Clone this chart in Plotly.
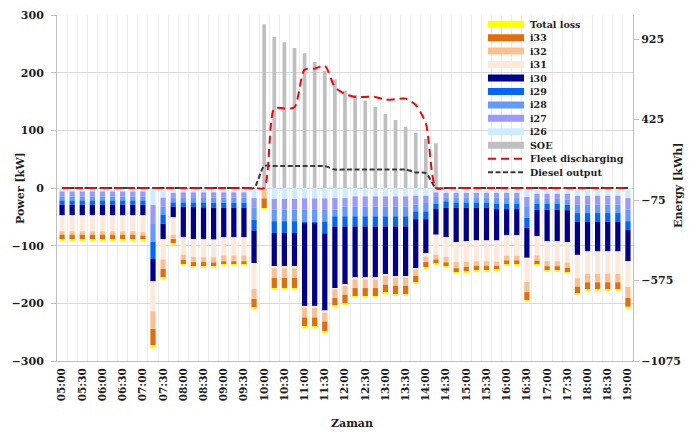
import plotly.graph_objects as go

# 15-minute time steps of the day
times = ["05:00", "05:15", "05:30", "05:45", "06:00", "06:15", "06:30", "06:45",
         "07:00", "07:15", "07:30", "07:45", "08:00", "08:15", "08:30", "08:45",
         "09:00", "09:15", "09:30", "09:45", "10:00", "10:15", "10:30", "10:45",
         "11:00", "11:15", "11:30", "11:45", "12:00", "12:15", "12:30", "12:45",
         "13:00", "13:15", "13:30", "13:45", "14:00", "14:15", "14:30", "14:45",
         "15:00", "15:15", "15:30", "15:45", "16:00", "16:15", "16:30", "16:45",
         "17:00", "17:15", "17:30", "17:45", "18:00", "18:15", "18:30", "18:45",
         "19:00"]

# Charging power per vehicle group [kW] (negative = drawn from the grid)
i26 = [-6, -6, -6, -6, -6, -6, -6, -6, -6, -29.5, -17, -8.5, -7.5, -7.5, -7.5, -7.5,
       -7.5, -7.5, -7.5, -17.5, 0, -19, -19, -19, -18, -18, -18, -17.5, -17.5, -14.5,
       -14.5, -14.5, -14.5, -14.5, -14.5, -13.5, -13.5, -7.5, -8.5, -8.5, -8.5, -8.5,
       -8.5, -8.5, -8.5, -8.5, -15.5, -10, -10, -10, -10, -13.5, -13.5, -13.5, -13.5,
       -13.5, -17.5]
i27 = [-8.5, -8.5, -8.5, -8.5, -8.5, -8.5, -8.5, -8.5, -8.5, -31.5, -15, -8.5, -8.5,
       -8.5, -8.5, -9, -9, -9, -9, -17, 0, -18.5, -18.5, -18.5, -20, -20, -20, -20,
       -14.5, -17.5, -17.5, -17.5, -17.5, -17.5, -17.5, -15.5, -12.5, -8, -8.5, -8.5,
       -8.5, -8.5, -8.5, -8.5, -8.5, -8.5, -16, -9, -9, -9, -10, -15.5, -15.5, -15.5,
       -15.5, -15.5, -20]
i28 = [-7, -7, -7, -7, -7, -7, -7, -7, -7, -32, -14, -8, -9, -9, -9, -9, -9, -9, -9,
       -20.5, 0, -20, -20, -20, -21, -21, -20, -11.5, -17, -17, -17, -17, -17, -17, -17,
       -11.5, -14.5, -11.5, -6, -8, -8, -8, -8, -10, -10, -10, -20, -8, -8, -8, -9,
       -14.5, -14.5, -14.5, -14.5, -14.5, -20]
i29 = [-7.5, -7.5, -7.5, -7.5, -7.5, -7.5, -7.5, -7.5, -7.5, -30, -16, -7, -8, -8, -8.5,
       -9, -9, -9, -9, -18.5, 0, -20.5, -20.5, -20.5, -2, -2, -20.5, -17.5, -17.5, -17.5,
       -17.5, -17.5, -17.5, -17.5, -17.5, -13.5, -13.5, -9.5, -11.5, -9.5, -9.5, -9.5,
       -9.5, -9.5, -9.5, -9.5, -17.5, -10.5, -10.5, -10.5, -9.5, -14.5, -14.5, -14.5,
       -14.5, -14.5, -15.5]
i30 = [-18.5, -18.5, -18.5, -18.5, -18.5, -18.5, -18.5, -18.5, -18.5, -39, -26.5, -19,
       -52.5, -55.5, -55.5, -55, -51, -51, -51, -56.5, 0, -58, -58, -58, -143.5, -143.5,
       -134, -107, -101, -89.5, -89.5, -89.5, -83.5, -86.5, -86.5, -85, -59, -44.5,
       -50.5, -59.5, -58, -56.5, -56.5, -54.5, -45.5, -45.5, -52, -46, -55, -55, -55.5,
       -58, -52, -52, -52, -52, -54]
i31 = [-27.5, -27.5, -27.5, -27.5, -27.5, -27.5, -27.5, -27.5, -29, -52, -35.5, -30,
       -30, -31, -31, -30.5, -31.5, -31.5, -31.5, -45, -2, -3, -3, -3, -3.5, -3.5, -3.5,
       -2.5, -2.5, -2.5, -2.5, -2.5, -2.5, -2.5, -2.5, -2.5, -6, -34.5, -34.5, -34.5,
       -35.5, -36, -36, -36.5, -35.5, -35.5, -42, -33.5, -34.5, -34.5, -35, -40.5, -38.5,
       -38.5, -38.5, -38.5, -44.5]
i32 = [-6, -6, -6, -6, -6, -6, -6, -6, -6, -30.5, -16.5, -7.5, -9, -9, -8.5, -9, -10,
       -10, -10, -17.5, -16, -17, -17, -17, -16.5, -16.5, -15.5, -15, -15, -15, -15, -15,
       -15, -14, -14, -11, -9.5, -8.5, -9.5, -10.5, -9, -8, -8, -7.5, -8, -8, -17.5, -9,
       -8.5, -8.5, -9.5, -14.5, -15, -15, -15, -15, -19]
i33 = [-7.5, -7.5, -7.5, -7.5, -7.5, -7.5, -7.5, -7.5, -7, -28.5, -14.5, -7, -7.5, -7.5,
       -7.5, -6.5, -6, -6, -6, -15.5, -17, -17.5, -17.5, -17.5, -16.5, -16.5, -18, -13,
       -14.5, -14.5, -14.5, -14.5, -14.5, -14.5, -14.5, -11.5, -9, -7.5, -7, -7.5, -7.5,
       -7.5, -7.5, -7, -6.5, -6.5, -14, -7.5, -7.5, -7.5, -8.5, -12.5, -12.5, -12.5,
       -12.5, -12.5, -15.5]
total_loss = [-3, -3, -3, -3, -3, -3, -3, -3, -3, -5, -3, -2.5, -2.5, -2.5, -2, -2.5,
              -2.5, -2.5, -2.5, -3, -2, -2, -2, -2, -2.5, -2.5, -3, -2.5, -3, -3, -3, -3,
              -3, -2.5, -2.5, -2.5, -2.5, -2, -2, -2.5, -2, -2, -2, -2, -2, -2, -3, -2, -2,
              -2, -2, -2.5, -2.5, -2.5, -2.5, -2.5, -3.5]

# Fleet state of energy [kWh]
soe = [None, None, None, None, None, None, None, None, None, None, None, None, None,
       None, None, None, None, None, None, None, 1017, 940, 905, 870, 837, 783, 727,
       675, 605, 578, 543, 503, 460, 423, 381, 342, 306, 278, None, None, None, None,
       None, None, None, None, None, None, None, None, None, None, None, None, None,
       None, None]

# Fleet discharging and diesel generator output [kW]
fleet_discharging = [0, 0, 0, 0, 0, 0, 0, 0, 0, 0, 0, 0, 0, 0, 0, 0, 0, 0, 0, 0, 0,
                     138, 138, 140, 205, 207, 212, 175, 163, 158, 158, 158, 153, 154,
                     155, 144, 112, 0, 0, 0, 0, 0, 0, 0, 0, 0, 0, 0, 0, 0, 0, 0, 0, 0,
                     0, 0, 0]
diesel_output = [0, 0, 0, 0, 0, 0, 0, 0, 0, 0, 0, 0, 0, 0, 0, 0, 0, 0, 0, 0, 38, 38,
                 38, 38, 38, 38, 38, 32, 32, 32, 32, 32, 32, 32, 32, 27, 26, 0, 0, 0, 0,
                 0, 0, 0, 0, 0, 0, 0, 0, 0, 0, 0, 0, 0, 0, 0, 0]

DAY = "2000-01-01 "
x = [DAY + t for t in times]

FONT = "DejaVu Serif"
TXT = "#1e1e1e"
AXC = "#bfbfbf"

# Stacked from the zero line downwards
power_series = [
    ("i26", i26, "#CCECFF"),
    ("i27", i27, "#9999FF"),
    ("i28", i28, "#6699FF"),
    ("i29", i29, "#0066FF"),
    ("i30", i30, "#000090"),
    ("i31", i31, "#FDE9D9"),
    ("i32", i32, "#FAC090"),
    ("i33", i33, "#E46C0A"),
    ("Total loss", total_loss, "#FFFF00"),
]
SOE_COLOR = "#BFBFBF"
FLEET = dict(color="#FF0000", width=2, dash="8px,5px")
DIESEL = dict(color="#3a3a3a", width=2, dash="5px,2.5px")

fig = go.Figure()

# Energy bars on the right-hand axis (drawn underneath the power traces)
fig.add_trace(go.Bar(x=x, y=soe, name="SOE", yaxis="y", width=330000,
                     marker=dict(color=SOE_COLOR, line=dict(width=0)),
                     showlegend=False))

for name, vals, col in power_series:
    fig.add_trace(go.Bar(x=x, y=vals, name=name, yaxis="y2",
                         marker=dict(color=col, line=dict(width=0)),
                         showlegend=False))

fig.add_trace(go.Scatter(x=x, y=diesel_output, name="Diesel output", yaxis="y2",
                         mode="lines", line=dict(shape="spline", smoothing=0.7, **DIESEL),
                         showlegend=False))
fig.add_trace(go.Scatter(x=x, y=fleet_discharging, name="Fleet discharging", yaxis="y2",
                         mode="lines", line=dict(shape="spline", smoothing=0.7, **FLEET),
                         showlegend=False))

# Plot-area geometry in pixels, used to place the hand-built legend and titles
W, H = 699, 435
L, R, T, B = 57, 66, 15, 74
PW, PH = W - L - R, H - T - B


def px(xp):
    return (xp - L) / PW


def py(yp):
    return (H - B - yp) / PH


color_of = {name: col for name, _, col in power_series}
legend_items = [
    ("Total loss", "bar", color_of["Total loss"]),
    ("i33", "bar", color_of["i33"]),
    ("i32", "bar", color_of["i32"]),
    ("i31", "bar", color_of["i31"]),
    ("i30", "bar", color_of["i30"]),
    ("i29", "bar", color_of["i29"]),
    ("i28", "bar", color_of["i28"]),
    ("i27", "bar", color_of["i27"]),
    ("i26", "bar", color_of["i26"]),
    ("SOE", "bar", SOE_COLOR),
    ("Fleet discharging", FLEET, None),
    ("Diesel output", DIESEL, None),
]

shapes = [dict(type="rect", xref="paper", yref="paper", layer="between",
               x0=px(484), x1=px(622), y0=py(179), y1=py(16),
               fillcolor="white", line=dict(width=0))]
annotations = []
row0, step = 24.2, 13.45
sx0, sx1, tx = 488, 524, 528
for k, (label, kind, col) in enumerate(legend_items):
    yc = row0 + k * step
    if kind == "bar":
        shapes.append(dict(type="rect", xref="paper", yref="paper", layer="above",
                           x0=px(sx0), x1=px(sx1), y0=py(yc + 3.5), y1=py(yc - 3.5),
                           fillcolor=col, line=dict(width=0)))
    else:
        shapes.append(dict(type="line", xref="paper", yref="paper", layer="above",
                           x0=px(sx0), x1=px(sx1), y0=py(yc), y1=py(yc),
                           line=dict(color=kind["color"], width=kind["width"],
                                     dash=kind["dash"])))
    annotations.append(dict(xref="paper", yref="paper", x=px(tx), y=py(yc),
                            text=label, showarrow=False, xanchor="left",
                            yanchor="middle",
                            font=dict(family=FONT, size=9.5, color=TXT, weight="bold")))

title_font = dict(family=FONT, size=11, color=TXT, weight="bold")
# Axis titles
annotations.append(dict(xref="paper", yref="paper", x=px(20), y=py(188),
                        text="Power [kW]", textangle=-90, showarrow=False,
                        xanchor="center", yanchor="middle", font=title_font))
annotations.append(dict(xref="paper", yref="paper", x=px(679), y=py(186),
                        text="Energy [kWh]", textangle=-90, showarrow=False,
                        xanchor="center", yanchor="middle", font=title_font))
annotations.append(dict(xref="paper", yref="paper", x=px(352), y=py(423),
                        text="Zaman", showarrow=False,
                        xanchor="center", yanchor="middle", font=title_font))

tick_font = dict(family=FONT, size=11, color=TXT, weight="bold")

fig.update_layout(
    width=W, height=H,
    margin=dict(l=L, r=R, t=T, b=B, autoexpand=False),
    paper_bgcolor="white", plot_bgcolor="white",
    barmode="relative", bargap=0.48,
    font=dict(family=FONT, color=TXT),
    showlegend=False,
    shapes=shapes,
    annotations=annotations,
    xaxis=dict(
        type="date",
        range=[DAY + "04:52:30", DAY + "19:07:30"],
        tick0=DAY + "05:00", dtick=1800000, tickformat="%H:%M",
        tickangle=-90, tickfont=dict(family=FONT, size=10.5, color=TXT, weight="bold"),
        showgrid=False, zeroline=False,
        minor=dict(tick0=DAY + "04:52:30", dtick=900000, showgrid=True,
                   gridcolor="#ececec", gridwidth=1, ticks=""),
        showline=True, linecolor=AXC, linewidth=1, ticks="",
        ticklabelstandoff=2,
        anchor="y",
    ),
    yaxis=dict(
        side="right", range=[-1075, 1075], tick0=-1075, dtick=500,
        showgrid=False, zeroline=False,
        showline=True, linecolor=AXC, linewidth=1,
        ticks="outside", ticklen=5, tickcolor=AXC,
        tickfont=tick_font, ticklabelstandoff=0,
    ),
    yaxis2=dict(
        overlaying="y", side="left", range=[-300, 300], tick0=-300, dtick=100,
        showgrid=True, gridcolor="#d9d9d9", gridwidth=1, zeroline=False,
        showline=True, linecolor=AXC, linewidth=1,
        ticks="outside", ticklen=5, tickcolor=AXC,
        tickfont=tick_font, ticklabelstandoff=5,
    ),
)

fig.write_html("out.html")
